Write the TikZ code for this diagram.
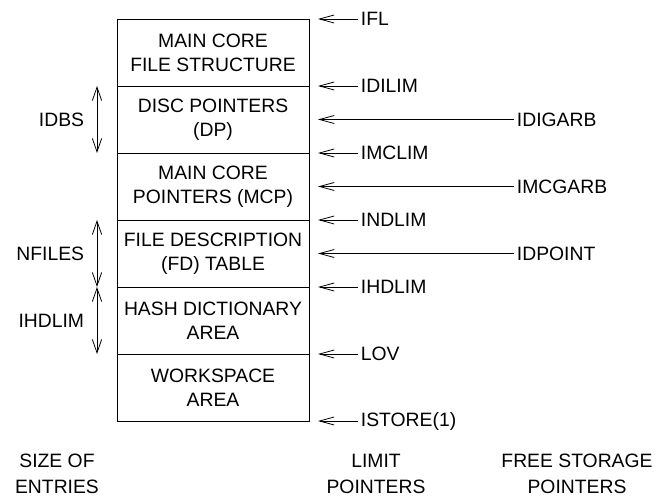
\documentclass[tikz,border=0pt]{standalone}
\usepackage{fontspec}
\setmainfont{Liberation Sans}
\usetikzlibrary{arrows.meta,positioning}

\begin{document}
\begin{tikzpicture}[x=0.75pt, y=-0.75pt,
  area/.style={rectangle, draw, line width=0.6pt, minimum width=144pt, minimum height=50.25pt, align=center, outer sep=0pt, inner sep=0pt, font=\fontsize{14.5}{18}\selectfont},
  lbl/.style={inner sep=2pt, align=center, font=\fontsize{14.5}{19.5}\selectfont},
  ptr/.style={{Straight Barb[length=11pt,width=6pt]}-, line width=0.6pt},
  span/.style={{Straight Barb[length=10pt,width=7pt]}-{Straight Barb[length=10pt,width=7pt]}, line width=0.6pt}
]
\useasboundingbox (0,0) rectangle (671,502);
% memory areas, top to bottom
\node[area] (mcfs) at (213,52.5) {MAIN CORE\\FILE STRUCTURE};
\node[area, below=0pt of mcfs] (dp) {DISC POINTERS\\(DP)};
\node[area, below=0pt of dp] (mcp) {MAIN CORE\\POINTERS (MCP)};
\node[area, below=0pt of mcp] (fd) {FILE DESCRIPTION\\(FD) TABLE};
\node[area, below=0pt of fd] (hash) {HASH DICTIONARY\\AREA};
\node[area, below=0pt of hash] (work) {WORKSPACE\\AREA};

% limit pointers
\coordinate[right=6.75pt of mcfs.north east] (p-ifl);
\coordinate[right=6.75pt of dp.north east] (p-idilim);
\coordinate[right=6.75pt of mcp.north east] (p-imclim);
\coordinate[right=6.75pt of fd.north east] (p-indlim);
\coordinate[right=6.75pt of hash.north east] (p-ihdlim);
\coordinate[right=6.75pt of work.north east] (p-lov);
\coordinate[right=6.75pt of work.south east] (p-istore);
\node[lbl, right=30pt of p-ifl] (ifl) {IFL};
\node[lbl, right=30pt of p-idilim] (idilim) {IDILIM};
\node[lbl, right=30pt of p-imclim] (imclim) {IMCLIM};
\node[lbl, right=30pt of p-indlim] (indlim) {INDLIM};
\node[lbl, right=30pt of p-ihdlim] (ihdlim) {IHDLIM};
\node[lbl, right=30pt of p-lov] (lov) {LOV};
\node[lbl, right=30pt of p-istore] (istore) {ISTORE(1)};
\draw[ptr] (p-ifl) -- (ifl);
\draw[ptr] (p-idilim) -- (idilim);
\draw[ptr] (p-imclim) -- (imclim);
\draw[ptr] (p-indlim) -- (indlim);
\draw[ptr] (p-ihdlim) -- (ihdlim);
\draw[ptr] (p-lov) -- (lov);
\draw[ptr] (p-istore) -- (istore);

% free storage pointers
\coordinate[right=6.75pt of dp.east] (p-idigarb);
\coordinate[right=6.75pt of mcp.east] (p-imcgarb);
\coordinate[right=6.75pt of fd.east] (p-idpoint);
\node[lbl, right=147pt of p-idigarb] (idigarb) {IDIGARB};
\node[lbl, right=147pt of p-imcgarb] (imcgarb) {IMCGARB};
\node[lbl, right=147pt of p-idpoint] (idpoint) {IDPOINT};
\draw[ptr] (p-idigarb) -- (idigarb);
\draw[ptr] (p-imcgarb) -- (imcgarb);
\draw[ptr] (p-idpoint) -- (idpoint);

% sizes of entries
\coordinate[left=15pt of dp.north west] (s-dp-a);
\coordinate[left=15pt of dp.south west] (s-dp-b);
\coordinate[left=15pt of dp.west] (s-dp);
\coordinate[left=15pt of fd.north west] (s-fd-a);
\coordinate[left=15pt of fd.south west] (s-fd-b);
\coordinate[left=15pt of fd.west] (s-fd);
\coordinate[left=15pt of hash.north west] (s-hash-a);
\coordinate[left=15pt of hash.south west] (s-hash-b);
\coordinate[left=15pt of hash.west] (s-hash);
\draw[span] (s-dp-a) -- (s-dp-b);
\draw[span] (s-fd-a) -- (s-fd-b);
\draw[span] (s-hash-a) -- (s-hash-b);
\node[lbl, left=7.5pt of s-dp] (idbs) {IDBS};
\node[lbl, left=7.5pt of s-fd] (nfiles) {NFILES};
\node[lbl, left=7.5pt of s-hash] (ihdlimsize) {IHDLIM};

% column headings
\node[lbl] (sizehead) at (57,474) {SIZE OF\\ENTRIES};
\node[lbl] (limithead) at (376,474) {LIMIT\\POINTERS};
\node[lbl] (freehead) at (577,474) {FREE STORAGE\\POINTERS};
\end{tikzpicture}
\end{document}
